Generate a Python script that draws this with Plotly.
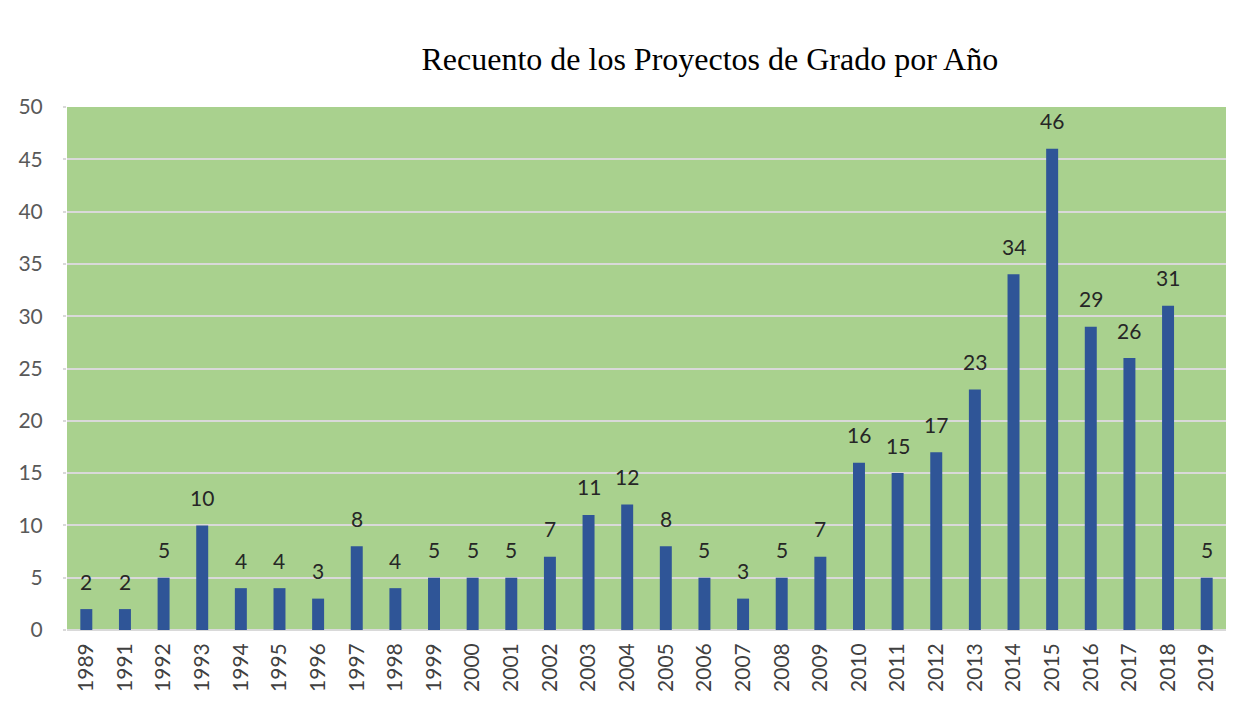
import plotly.graph_objects as go

years = ["1989", "1991", "1992", "1993", "1994", "1995", "1996", "1997", "1998", "1999",
         "2000", "2001", "2002", "2003", "2004", "2005", "2006", "2007", "2008", "2009",
         "2010", "2011", "2012", "2013", "2014", "2015", "2016", "2017", "2018", "2019"]
counts = [2, 2, 5, 10, 4, 4, 3, 8, 4, 5,
          5, 5, 7, 11, 12, 8, 5, 3, 5, 7,
          16, 15, 17, 23, 34, 46, 29, 26, 31, 5]
y_ticks = [0, 5, 10, 15, 20, 25, 30, 35, 40, 45, 50]

FONT = "Lato, Open Sans, sans-serif"

fig = go.Figure(go.Bar(
    x=years, y=counts,
    marker=dict(color="#2F5597", line=dict(width=0)),
    hoverinfo="x+y",
))

# data labels above the bars (category index positions on the x axis)
for i, c in enumerate(counts):
    fig.add_annotation(x=i, y=c, text=str(c), showarrow=False,
                       xref="x", yref="y", yanchor="middle", yshift=28,
                       font=dict(family=FONT, size=21, color="#262626"))

fig.update_layout(
    width=1240, height=706,
    margin=dict(l=59, r=22, t=99, b=84, autoexpand=False),
    paper_bgcolor="white",
    plot_bgcolor="#A9D18E",
    bargap=0.69,
    showlegend=False,
    title=dict(text="Recuento de los Proyectos de Grado por Año",
               font=dict(family="Liberation Serif, Times New Roman, serif", size=32, color="black"),
               x=0.566, xanchor="center", y=0.928, yanchor="middle"),
    xaxis=dict(type="category", categoryorder="array", categoryarray=years,
               range=[-0.5, len(years) - 0.5],
               tickangle=-90, tickfont=dict(family=FONT, size=21, color="#404040"),
               showgrid=False, showline=False, ticks="", automargin=False,
               ticklabelstandoff=8),
    yaxis=dict(range=[0, 50], tickvals=y_ticks, automargin=False,
               tickfont=dict(family=FONT, size=21, color="#595959"),
               showgrid=True, gridcolor="#D9D9D9", gridwidth=2,
               ticks="outside", ticklen=3, tickcolor="#D9D9D9", tickwidth=2,
               ticklabelstandoff=16,
               zeroline=True, zerolinecolor="#D9D9D9", zerolinewidth=2,
               showline=False),
)

fig.write_html("out.html")
